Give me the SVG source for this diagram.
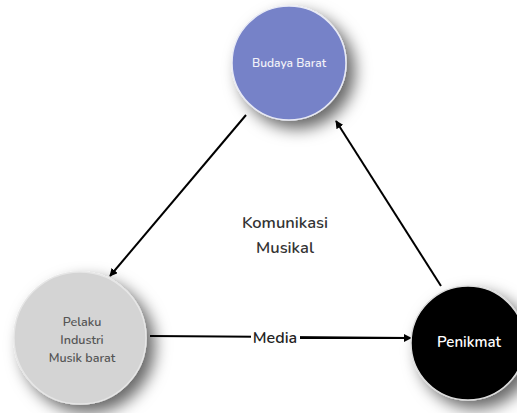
<svg xmlns="http://www.w3.org/2000/svg" width="517" height="413" viewBox="0 0 517 413">
<defs>
<filter id="sh" x="-40%" y="-40%" width="200%" height="200%">
<feDropShadow dx="8" dy="8" stdDeviation="8" flood-color="#000" flood-opacity="0.6"/>
</filter>
<marker id="ah" viewBox="0 0 10 10" refX="9" refY="5" markerWidth="8" markerHeight="8" orient="auto-start-reverse" markerUnits="userSpaceOnUse">
<path d="M0,0 L10,5 L0,10 z" fill="#000"/>
</marker>
</defs>
<style>
.lbl{font-family:"Nunito","Lato","Open Sans",sans-serif;text-anchor:middle;font-weight:600}
.edge{stroke:#000;stroke-width:2;fill:none;marker-end:url(#ah)}
</style>
<rect width="517" height="413" fill="#fff"/>
<g id="connectors">
<line class="edge" x1="246" y1="115" x2="110" y2="276"/>
<line class="edge" x1="441" y1="286" x2="336" y2="121"/>
<line class="edge" x1="150" y1="336" x2="410" y2="338" style="marker-end:none"/>
<line class="edge" x1="300" y1="338" x2="411" y2="338"/>
<rect x="251" y="326" width="49" height="22" fill="#fff"/>
<text class="lbl" x="275" y="343" font-size="16" fill="#222" font-weight="500">Media</text>
</g>
<g id="budaya">
<circle cx="289" cy="63" r="57" fill="#7682c8" stroke="#e8eaf5" stroke-width="1.5" filter="url(#sh)"/>
<text class="lbl" x="289" y="67" font-size="12" fill="#f2f2f8">Budaya Barat</text>
</g>
<g id="pelaku">
<circle cx="80" cy="338" r="66" fill="#d4d4d4" stroke="#e6e6e6" stroke-width="1.5" filter="url(#sh)"/>
<text class="lbl" x="82" y="326" font-size="12.5" fill="#555">Pelaku</text>
<text class="lbl" x="82" y="344" font-size="12.5" fill="#555">Industri</text>
<text class="lbl" x="82" y="362" font-size="12.5" fill="#555">Musik barat</text>
</g>
<g id="penikmat">
<circle cx="468" cy="343" r="57" fill="#000" stroke="#ddd" stroke-width="1.5" filter="url(#sh)"/>
<text class="lbl" x="469" y="347" font-size="15" fill="#fff" font-weight="500">Penikmat</text>
</g>
<g id="center">
<text class="lbl" x="285" y="228" font-size="16.5" fill="#333">Komunikasi</text>
<text class="lbl" x="285" y="253" font-size="16.5" fill="#333">Musikal</text>
</g>
</svg>
